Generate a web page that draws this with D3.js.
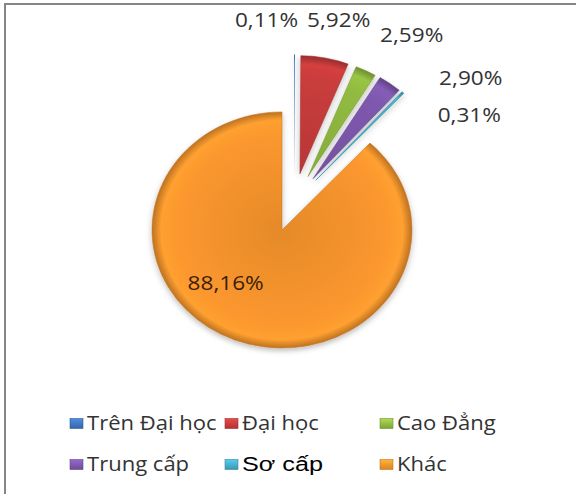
<!DOCTYPE html>
<html lang="vi">
<head>
<meta charset="UTF-8">
<title>Pie chart</title>
<script src="https://d3js.org/d3.v7.min.js"></script>
<style>
    body { margin: 0; background: #fff; }
    text { font-family: "Open Sans", sans-serif; fill: #333; }
</style>
</head>
<body>
<svg id="chart"></svg>
<script>
    const categories = ["Trên Đại học", "Đại học", "Cao Đẳng", "Trung cấp", "Sơ cấp", "Khác"];
    const values = [0.11, 5.92, 2.59, 2.90, 0.31, 88.16];
    const valueLabels = ["0,11%", "5,92%", "2,59%", "2,90%", "0,31%", "88,16%"];
    const colors = ["#3f72b8", "#c23a3a", "#8cb43e", "#7a55a8", "#45a6c2", "#f2922c"];

    const width = 576, height = 494;
    const cx = 282, cy = 230, r = 130, squash = 0.908;
    const explodeDist = 64.5;
    const textStretch = 1.13;
    // label fine placement (dx, dy) relative to the slice anchor
    const labelNudge = [[-28, -16], [10, -20], [37, -19], [69, 9], [53, 36], [-28, -13]];

    const data = categories.map((c, i) => ({ name: c, value: values[i], label: valueLabels[i], color: colors[i] }));

    const svg = d3.select("#chart").attr("width", width).attr("height", height);
    const defs = svg.append("defs");

    // soft shadow under the pie
    const f = defs.append("filter").attr("id", "shadow").attr("x", "-20%").attr("y", "-20%").attr("width", "140%").attr("height", "140%");
    f.append("feDropShadow").attr("dx", 0).attr("dy", 3).attr("stdDeviation", 3).attr("flood-color", "#000").attr("flood-opacity", 0.25);

    // bevel-like radial gradients
    data.forEach((d, i) => {
        const c = d3.color(d.color);
        const g = defs.append("radialGradient").attr("id", "grad" + i)
            .attr("gradientUnits", "userSpaceOnUse").attr("cx", 0).attr("cy", 0).attr("r", r);
        g.append("stop").attr("offset", "0%").attr("stop-color", c.darker(0.15));
        g.append("stop").attr("offset", "80%").attr("stop-color", c.brighter(0.1));
        g.append("stop").attr("offset", "93%").attr("stop-color", c.brighter(0.25));
        g.append("stop").attr("offset", "100%").attr("stop-color", c.darker(0.7));
        const lg = defs.append("linearGradient").attr("id", "leg" + i).attr("x1", 0).attr("y1", 0).attr("x2", 0).attr("y2", 1);
        lg.append("stop").attr("offset", "0%").attr("stop-color", c.brighter(0.6));
        lg.append("stop").attr("offset", "100%").attr("stop-color", c.darker(0.3));
    });

    // frame
    svg.append("rect").attr("x", 5).attr("y", 4).attr("width", width + 20).attr("height", height + 20)
        .attr("fill", "none").attr("stroke", "#858585").attr("stroke-width", 2);

    const pie = d3.pie().sort(null).value(d => d.value);
    const arcs = pie(data);
    const arc = d3.arc().innerRadius(0).outerRadius(r);

    const maxVal = d3.max(values);
    const small = arcs.filter(a => a.data.value < maxVal);
    const groupMid = (d3.min(small, a => a.startAngle) + d3.max(small, a => a.endAngle)) / 2;

    arcs.forEach(a => {
        a.mid = (a.startAngle + a.endAngle) / 2;
        if (a.data.value < maxVal) {
            const dir = (a.mid + groupMid) / 2;
            a.dx = explodeDist * Math.sin(dir);
            a.dy = -explodeDist * Math.cos(dir);
        } else {
            a.dx = 0; a.dy = 0;
        }
    });

    const pieG = svg.append("g")
        .attr("transform", `translate(${cx},${cy}) scale(1,${squash})`)
        .attr("filter", "url(#shadow)");

    pieG.selectAll("path.slice")
        .data(arcs)
        .enter().append("path")
        .attr("class", "slice")
        .attr("transform", d => `translate(${d.dx},${d.dy})`)
        .attr("d", arc)
        .attr("fill", (d, i) => `url(#grad${i})`)
        .attr("stroke", d => d3.color(d.data.color).darker(0.5))
        .attr("stroke-width", d => d.data.value < 0.2 ? 0 : 0.6);

    // data labels
    const labelPos = (d, i) => {
        const rl = d.data.value === maxVal ? r * 0.6 : r + 20;
        return [cx + d.dx + rl * Math.sin(d.mid) + labelNudge[i][0],
                cy + (d.dy - rl * Math.cos(d.mid)) * squash + labelNudge[i][1]];
    };

    svg.selectAll("g.val")
        .data(arcs)
        .enter().append("g")
        .attr("class", "val")
        .attr("transform", (d, i) => {
            const p = labelPos(d, i);
            return `translate(${p[0]},${p[1]}) scale(${textStretch},1)`;
        })
        .append("text")
        .attr("text-anchor", "middle")
        .attr("dy", "0.35em")
        .style("font-size", "20px")
        .style("fill", d => d.data.value === maxVal ? "#3a1e08" : "#333")
        .text(d => d.data.label);

    // legend
    const legendX = d3.scaleOrdinal().domain([0, 1, 2]).range([70, 225, 380]);
    const legendY = d3.scaleOrdinal().domain([0, 1]).range([423.5, 464.5]);

    const items = svg.selectAll("g.legend")
        .data(data)
        .enter().append("g")
        .attr("class", "legend")
        .attr("transform", (d, i) => `translate(${legendX(i % 3)},${legendY(Math.floor(i / 3))})`);

    items.append("rect")
        .attr("x", 0).attr("y", -5).attr("width", 13).attr("height", 10)
        .attr("fill", (d, i) => `url(#leg${i})`)
        .attr("stroke", d => d3.color(d.color).darker(0.6)).attr("stroke-width", 0.6);

    items.append("g")
        .attr("transform", d => `translate(17,6.5) scale(${d.name === "Sơ cấp" ? 1.2 : textStretch},1)`)
        .append("text")
        .style("font-size", d => d.name === "Sơ cấp" ? "21px" : "19.5px")
        .style("font-family", d => d.name === "Sơ cấp" ? "'Liberation Sans', Arial, sans-serif" : null)
        .style("fill", d => d.name === "Sơ cấp" ? "#000" : "#333")
        .text(d => d.name);
</script>
</body>
</html>
